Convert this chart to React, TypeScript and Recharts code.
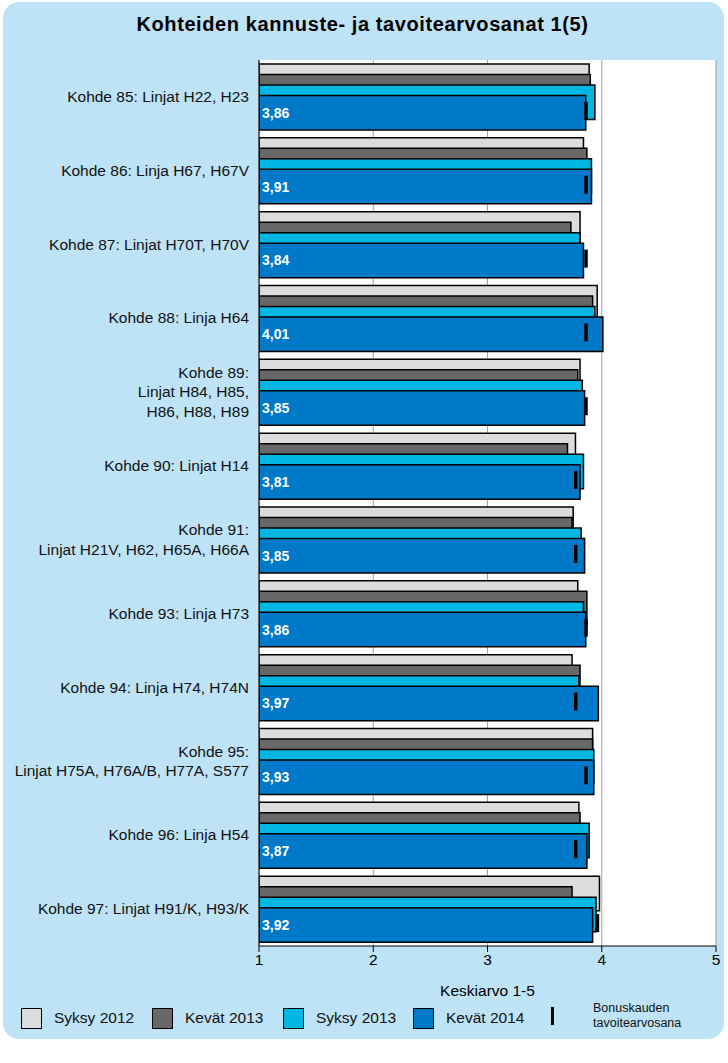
import React from 'react';
import { ComposedChart, Bar, XAxis, YAxis, CartesianGrid, Scatter, LabelList } from 'recharts';

const categories = [
  'Kohde 85: Linjat H22, H23',
  'Kohde 86: Linja H67, H67V',
  'Kohde 87: Linjat H70T, H70V',
  'Kohde 88: Linja H64',
  'Kohde 89:\nLinjat H84, H85,\nH86, H88, H89',
  'Kohde 90: Linjat H14',
  'Kohde 91:\nLinjat H21V, H62, H65A, H66A',
  'Kohde 93: Linja H73',
  'Kohde 94: Linja H74, H74N',
  'Kohde 95:\nLinjat H75A, H76A/B, H77A, S577',
  'Kohde 96: Linja H54',
  'Kohde 97: Linjat H91/K, H93/K',
];
const syksy2012 = [3.89, 3.84, 3.81, 3.96, 3.81, 3.77, 3.75, 3.79, 3.74, 3.92, 3.8, 3.98];
const kevat2013 = [3.9, 3.87, 3.73, 3.92, 3.79, 3.7, 3.74, 3.87, 3.81, 3.92, 3.81, 3.74];
const syksy2013 = [3.94, 3.91, 3.81, 3.94, 3.83, 3.84, 3.82, 3.84, 3.8, 3.93, 3.89, 3.95];
const kevat2014 = [3.86, 3.91, 3.84, 4.01, 3.85, 3.81, 3.85, 3.86, 3.97, 3.93, 3.87, 3.92];
const tavoite = [3.86, 3.86, 3.86, 3.86, 3.86, 3.77, 3.77, 3.86, 3.77, 3.86, 3.77, 3.96];
const xTicks = [1, 2, 3, 4, 5];

const title = 'Kohteiden kannuste- ja tavoitearvosanat 1(5)';
const xLabel = 'Keskiarvo 1-5';
const targetName = ['Bonuskauden', 'tavoitearvosana'];

const series = [
  { key: 's2012', name: 'Syksy 2012', color: '#DCDCDC' },
  { key: 'k2013', name: 'Kevät 2013', color: '#686868' },
  { key: 's2013', name: 'Syksy 2013', color: '#00B7E3' },
  { key: 'k2014', name: 'Kevät 2014', color: '#0079C8' },
];

const data = categories.map((name, i) => ({
  name,
  s2012: syksy2012[i],
  k2013: kevat2013[i],
  s2013: syksy2013[i],
  k2014: kevat2014[i],
  target: tavoite[i],
}));

const FONT = '"Liberation Sans", Arial, sans-serif';

const CatTick = (props: any) => {
  const { x, y, payload } = props;
  const lines = String(payload.value).split('\n');
  const lh = 19.5;
  const start = y + 5 - ((lines.length - 1) * lh) / 2;
  return (
    <text x={x} y={start} textAnchor="end" fill="#111" fontSize={15.5} fontFamily={FONT}>
      {lines.map((l, i) => (
        <tspan key={i} x={x} dy={i === 0 ? 0 : lh}>
          {l}
        </tspan>
      ))}
    </text>
  );
};

const MarkerShape = (props: any) => {
  const { cx, cy } = props;
  if (cx == null || cy == null) return null;
  return <rect x={cx - 1.5} y={cy + 5} width={3.5} height={18} fill="#000" />;
};

const fmt = (v: any) => Number(v).toFixed(2).replace('.', ',');

const legendX = [21, 152, 283, 413];

export default function App() {
  return (
    <div style={{ position: 'absolute', left: 0, top: 0, width: 728, height: 1063, background: '#fff', fontFamily: FONT }}>
      <div
        style={{
          position: 'absolute',
          left: 3,
          top: 2,
          width: 721,
          height: 1037,
          borderRadius: 16,
          background: '#BEE3F6',
        }}
      />
      <div
        style={{
          position: 'absolute',
          left: 0,
          top: 13,
          width: 725,
          textAlign: 'center',
          fontWeight: 'bold',
          fontSize: 20,
          letterSpacing: 0.6,
          color: '#000',
        }}
      >
        {title}
      </div>
      <div style={{ position: 'absolute', left: 0, top: 0 }}>
        <ComposedChart
          layout="vertical"
          width={728}
          height={1063}
          data={data}
          margin={{ top: 60, right: 12, bottom: 67, left: 0 }}
          barGap={-24}
          barCategoryGap={0}
        >
          <CartesianGrid horizontal={false} vertical stroke="#A0A0A0" fill="#FFFFFF" />
          <XAxis
            type="number"
            domain={[1, 5]}
            ticks={xTicks}
            allowDataOverflow
            height={50}
            axisLine={{ stroke: '#000' }}
            tickLine={{ stroke: '#000' }}
            tickSize={6}
            tick={{ fill: '#000', fontSize: 15.5, fontFamily: FONT }}
            label={{ value: xLabel, position: 'insideBottom', offset: 0, fill: '#000', fontSize: 15.5, fontFamily: FONT }}
          />
          <XAxis
            xAxisId="top"
            orientation="top"
            type="number"
            domain={[1, 5]}
            ticks={xTicks}
            tick={false}
            tickLine={false}
            height={0}
            axisLine={{ stroke: '#000' }}
          />
          <YAxis
            type="category"
            dataKey="name"
            width={259}
            interval={0}
            axisLine={{ stroke: '#000' }}
            tickLine={false}
            tickSize={6}
            tickMargin={4}
            tick={<CatTick />}
          />
          {series.map((s) => (
            <Bar
              key={s.key}
              dataKey={s.key}
              name={s.name}
              fill={s.color}
              stroke="#000"
              strokeWidth={1.5}
              barSize={34.5}
              isAnimationActive={false}
            >
              {s.key === 'k2014' ? (
                <LabelList
                  dataKey="k2014"
                  position="insideLeft"
                  offset={3}
                  formatter={fmt}
                  fill="#FFFFFF"
                  fontWeight="bold"
                  fontSize={14}
                  fontFamily={FONT}
                />
              ) : null}
            </Bar>
          ))}
          <Scatter dataKey="target" name={targetName.join(' ')} shape={<MarkerShape />} isAnimationActive={false} />
        </ComposedChart>
      </div>
      {series.map((s, i) => (
        <React.Fragment key={s.key}>
          <div
            style={{
              position: 'absolute',
              left: legendX[i],
              top: 1008,
              width: 19,
              height: 19,
              background: s.color,
              border: '1px solid #000',
            }}
          />
          <div style={{ position: 'absolute', left: legendX[i] + 33, top: 1008, fontSize: 15.5, color: '#111', lineHeight: '20px' }}>
            {s.name}
          </div>
        </React.Fragment>
      ))}
      <div style={{ position: 'absolute', left: 551, top: 1007, width: 3, height: 18, background: '#000' }} />
      <div style={{ position: 'absolute', left: 593, top: 1001, fontSize: 12.5, color: '#111', lineHeight: '14.5px' }}>
        {targetName[0]}
        <br />
        {targetName[1]}
      </div>
    </div>
  );
}
